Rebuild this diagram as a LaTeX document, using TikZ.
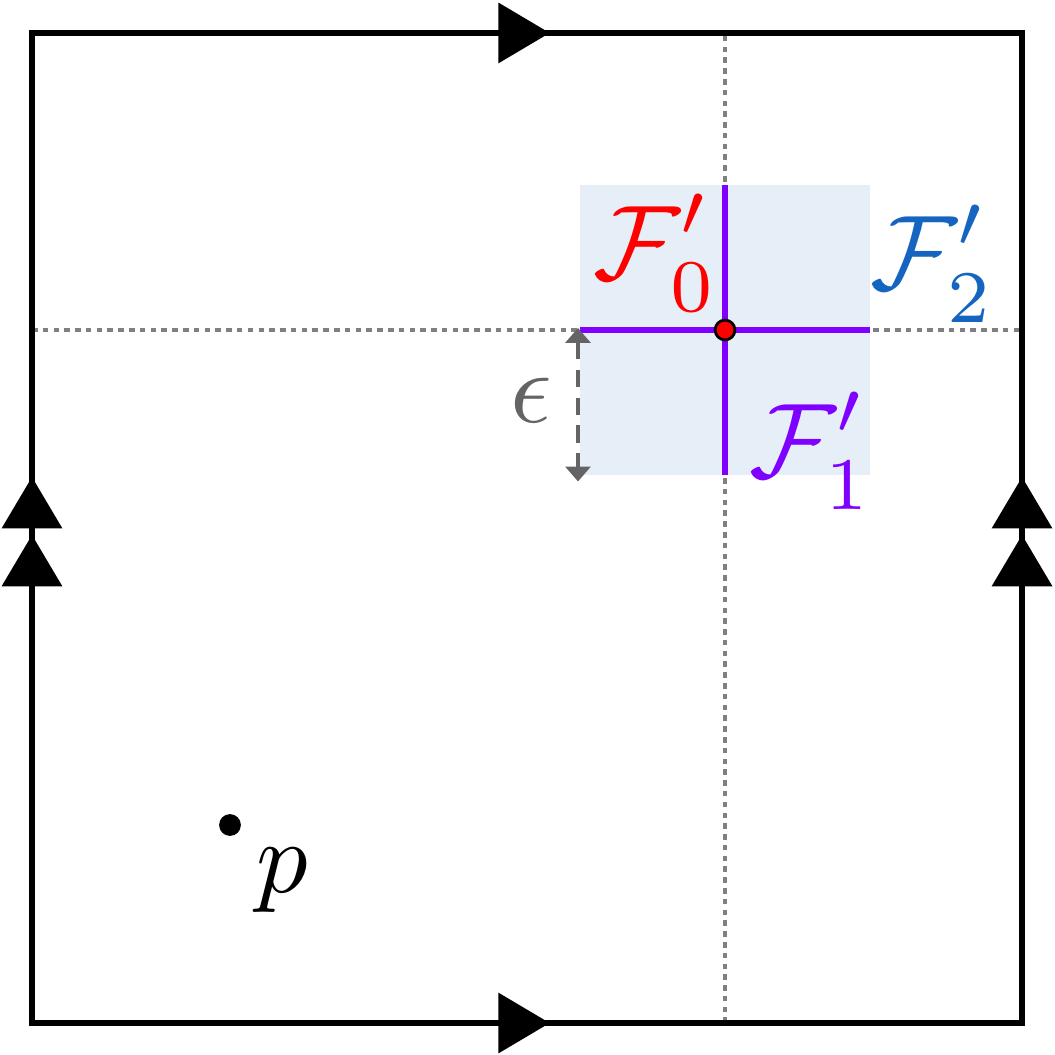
\documentclass[tikz,border=0pt]{standalone}
\usepackage{amsmath}
\usepackage{amssymb}
\usepackage{tikz}
\usetikzlibrary{arrows.meta}
\usetikzlibrary{decorations.markings}
\definecolor{leafpurple}{RGB}{127,0,255}
\definecolor{leafblue}{RGB}{21,101,192}
\definecolor{nbhd}{RGB}{230,238,248}
\definecolor{epsgray}{RGB}{100,100,100}
\newcommand{\leafsub}[1]{\lower0.6pt\hbox{$\scriptstyle #1$}}
\newcommand{\leafsup}{\raise0.5pt\hbox{$\scriptstyle \prime$}}
\tikzset{glue/.style = {decoration={markings,
                                    mark=at position #1 with {\arrow{Triangle[length=0.52cm, width=0.6cm]}}},
                        postaction={decorate}}}
\tikzset{glue2/.style = {decoration={markings,
                                     mark=at position 0.493 with {\arrow{Triangle[length=0.52cm, width=0.6cm]}},
                                     mark=at position 0.5515 with {\arrow{Triangle[length=0.52cm, width=0.6cm]}}},
                         postaction={decorate}}}
\tikzset{circ/.style = {fill, circle, inner sep = 0, minimum size = 0.22cm}}
\tikzset{gridline/.style = {gray, line width = 1.3pt, dash pattern = on 1.6pt off 1.5pt}}
\tikzset{lbl/.style = {scale = 2.95, inner sep = 0}}
\tikzset{leaf/.style = {scale = 3.05, inner sep = 0}}

\begin{document}
\begin{tikzpicture}
      \useasboundingbox (-0.323, -0.323) rectangle (10.333, 10.333);
      \coordinate (sw) at (0, 0);
      \coordinate (se) at (10, 0);
      \coordinate (ne) at (10, 10);
      \coordinate (nw) at (0, 10);
      \coordinate (o) at (7, 7);
      \fill [nbhd] (5.535, 5.535) rectangle (8.465, 8.465);
      \draw [gridline] (7, 0) -- (7, 10);
      \draw [gridline] (0, 7) -- (10, 7);
      \draw [line width = 1.7pt, line cap = rect, glue = 0.523] (sw) -- (se);
      \draw [line width = 1.7pt, line cap = rect, glue = 0.523] (nw) -- (ne);
      \draw [line width = 1.7pt, line cap = rect, glue2] (sw) -- (nw);
      \draw [line width = 1.7pt, line cap = rect, glue2] (se) -- (ne);
      \draw [leafpurple, line width = 1.7pt] (5.535, 7) -- (8.465, 7);
      \draw [leafpurple, line width = 1.7pt] (7, 5.535) -- (7, 8.465);
      \node [circ, fill = red, draw = black, line width = 0.8pt, minimum size = 0.2cm] (x) at (o) {};
      \coordinate (etop) at (5.515, 7.02);
      \coordinate (ebot) at (5.515, 5.47);
      \draw [epsgray, line width = 1.3pt, dash pattern = on 5pt off 3pt,
             {Triangle[length = 0.15cm, width = 0.25cm]}-{Triangle[length = 0.15cm, width = 0.25cm]}] (etop) -- (ebot);
      \node [lbl, epsgray] (eps) at (5.04, 6.29) {$\epsilon$};
      \node [leaf, red] (f0) at (6.30, 7.78) {$\mathcal{F}^{\leafsup}_{\leafsub{0}}$};
      \node [leaf, leafblue] (f2) at (9.10, 7.67) {$\mathcal{F}^{\leafsup}_{\leafsub{2}}$};
      \node [leaf, leafpurple] (f1) at (7.87, 5.78) {$\mathcal{F}^{\leafsup}_{\leafsub{1}}$};
      \node [circ] (p) at (2, 2) {};
      \node [lbl] (plabel) at (2.53, 1.44) {$p$};
    \end{tikzpicture}
\end{document}
